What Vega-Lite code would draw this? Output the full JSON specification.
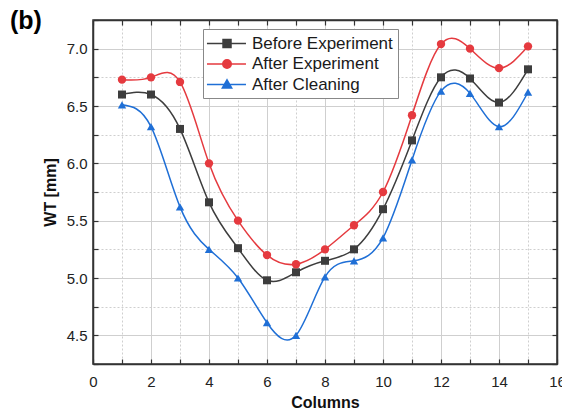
{
  "$schema": "https://vega.github.io/schema/vega-lite/v6.json",
  "width": 464,
  "height": 344,
  "autosize": {"type": "none"},
  "padding": {"left": 93, "top": 20, "right": 5, "bottom": 50},
  "background": "white",
  "title": {"text": "(b)", "anchor": "start", "frame": "group", "dx": -83, "dy": 35, "offset": 0, "baseline": "alphabetic", "fontSize": 25, "fontWeight": "bold", "font": "Liberation Sans", "color": "#000"},
  "config": {
    "font": "Liberation Sans",
    "view": {"stroke": "#333", "strokeWidth": 1.5},
    "axis": {"labelFont": "Liberation Sans", "titleFont": "Liberation Sans", "labelColor": "#222", "titleColor": "#111"}
  },
  "data": {"values": [
    {"col": 1, "wt": 6.6, "s": "Before Experiment"},
    {"col": 2, "wt": 6.6, "s": "Before Experiment"},
    {"col": 3, "wt": 6.3, "s": "Before Experiment"},
    {"col": 4, "wt": 5.66, "s": "Before Experiment"},
    {"col": 5, "wt": 5.26, "s": "Before Experiment"},
    {"col": 6, "wt": 4.98, "s": "Before Experiment"},
    {"col": 7, "wt": 5.05, "s": "Before Experiment"},
    {"col": 8, "wt": 5.15, "s": "Before Experiment"},
    {"col": 9, "wt": 5.25, "s": "Before Experiment"},
    {"col": 10, "wt": 5.6, "s": "Before Experiment"},
    {"col": 11, "wt": 6.2, "s": "Before Experiment"},
    {"col": 12, "wt": 6.75, "s": "Before Experiment"},
    {"col": 13, "wt": 6.74, "s": "Before Experiment"},
    {"col": 14, "wt": 6.53, "s": "Before Experiment"},
    {"col": 15, "wt": 6.82, "s": "Before Experiment"},
    {"col": 1, "wt": 6.73, "s": "After Experiment"},
    {"col": 2, "wt": 6.75, "s": "After Experiment"},
    {"col": 3, "wt": 6.71, "s": "After Experiment"},
    {"col": 4, "wt": 6.0, "s": "After Experiment"},
    {"col": 5, "wt": 5.5, "s": "After Experiment"},
    {"col": 6, "wt": 5.2, "s": "After Experiment"},
    {"col": 7, "wt": 5.12, "s": "After Experiment"},
    {"col": 8, "wt": 5.25, "s": "After Experiment"},
    {"col": 9, "wt": 5.46, "s": "After Experiment"},
    {"col": 10, "wt": 5.75, "s": "After Experiment"},
    {"col": 11, "wt": 6.42, "s": "After Experiment"},
    {"col": 12, "wt": 7.04, "s": "After Experiment"},
    {"col": 13, "wt": 7.0, "s": "After Experiment"},
    {"col": 14, "wt": 6.83, "s": "After Experiment"},
    {"col": 15, "wt": 7.02, "s": "After Experiment"},
    {"col": 1, "wt": 6.51, "s": "After Cleaning"},
    {"col": 2, "wt": 6.32, "s": "After Cleaning"},
    {"col": 3, "wt": 5.62, "s": "After Cleaning"},
    {"col": 4, "wt": 5.25, "s": "After Cleaning"},
    {"col": 5, "wt": 5.0, "s": "After Cleaning"},
    {"col": 6, "wt": 4.61, "s": "After Cleaning"},
    {"col": 7, "wt": 4.5, "s": "After Cleaning"},
    {"col": 8, "wt": 5.01, "s": "After Cleaning"},
    {"col": 9, "wt": 5.15, "s": "After Cleaning"},
    {"col": 10, "wt": 5.35, "s": "After Cleaning"},
    {"col": 11, "wt": 6.03, "s": "After Cleaning"},
    {"col": 12, "wt": 6.63, "s": "After Cleaning"},
    {"col": 13, "wt": 6.61, "s": "After Cleaning"},
    {"col": 14, "wt": 6.32, "s": "After Cleaning"},
    {"col": 15, "wt": 6.62, "s": "After Cleaning"}
  ]},
  "layer": [
    {
      "mark": {"type": "line", "interpolate": "natural", "strokeWidth": 1.5},
      "encoding": {
        "x": {"field": "col", "type": "quantitative", "scale": {"domain": [0, 16], "nice": false, "zero": false},
          "axis": {"orient": "bottom", "title": "Columns", "titleFontSize": 16, "titleFontWeight": "bold", "titlePadding": 5,
            "values": [0,1,2,3,4,5,6,7,8,9,10,11,12,13,14,15,16],
            "labelExpr": "datum.value % 2 == 0 ? format(datum.value, 'd') : ''",
            "labelFontSize": 15, "labelPadding": 15, "tickSize": -5, "tickColor": "#333", "tickWidth": 1.2,
            "domainColor": "#333", "domainWidth": 1.5, "labelFlush": false,
            "grid": true, "gridColor": "#cfcfcf", "gridWidth": 1,
            "gridDash": {"condition": {"test": "datum.value % 2 != 0", "value": [2, 2]}, "value": []}}},
        "y": {"field": "wt", "type": "quantitative", "scale": {"domain": [4.25, 7.25], "nice": false, "zero": false},
          "axis": {"orient": "left", "title": "WT [mm]", "titleFontSize": 16, "titleFontWeight": "bold", "titlePadding": 8,
            "values": [4.25,4.5,4.75,5,5.25,5.5,5.75,6,6.25,6.5,6.75,7,7.25],
            "labelExpr": "(datum.value * 2) % 1 == 0 ? format(datum.value, '.1f') : ''",
            "labelFontSize": 15, "labelPadding": 11, "tickSize": -5, "tickColor": "#333", "tickWidth": 1.2,
            "domainColor": "#333", "domainWidth": 1.5, "labelFlush": false,
            "grid": true, "gridColor": "#cfcfcf", "gridWidth": 1,
            "gridDash": {"condition": {"test": "(datum.value * 2) % 1 != 0", "value": [2, 2]}, "value": []}}},
        "color": {"field": "s", "type": "nominal",
          "scale": {"domain": ["Before Experiment", "After Experiment", "After Cleaning"], "range": ["#3d3d3d", "#e53a3f", "#1f6fd6"]},
          "legend": {"title": null, "orient": "none", "legendX": 110, "legendY": 9,
            "labelFontSize": 17, "labelFont": "Liberation Sans", "labelColor": "#1a1a1a", "labelOffset": 25,
            "symbolSize": 289, "symbolStrokeWidth": 1.5, "rowPadding": 2.5, "padding": 5,
            "strokeColor": "#888", "fillColor": "white",
            "encode": {"symbols": {"update": {
              "shape": {"signal": "datum.value == 'Before Experiment' ? 'M-1.24,0H3.35M0.65,-0.47H1.59V0.47H0.65Z' : datum.value == 'After Experiment' ? 'M-1.24,0H3.35M0.62,0A0.5,0.5 0 1,1 1.62,0A0.5,0.5 0 1,1 0.62,0Z' : 'M-1.24,0H3.35M1.12,-0.55L1.67,0.4H0.57Z'"},
              "fill": {"signal": "scale('color', datum.value)"},
              "stroke": {"signal": "scale('color', datum.value)"},
              "fillOpacity": {"value": 1},
              "strokeOpacity": {"value": 1}
            }}}}}
      }
    },
    {
      "transform": [{"filter": "datum.s == 'Before Experiment'"}],
      "mark": {"type": "point", "filled": true, "opacity": 1, "shape": "square", "size": 64},
      "encoding": {
        "x": {"field": "col", "type": "quantitative",
          "axis": {"orient": "top", "title": null, "labels": false, "grid": false,
            "values": [0,1,2,3,4,5,6,7,8,9,10,11,12,13,14,15,16],
            "tickSize": -5, "tickColor": "#333", "tickWidth": 1.2, "domainColor": "#333", "domainWidth": 1.5}},
        "y": {"field": "wt", "type": "quantitative",
          "axis": {"orient": "right", "title": null, "labels": false, "grid": false,
            "values": [4.25,4.5,4.75,5,5.25,5.5,5.75,6,6.25,6.5,6.75,7,7.25],
            "tickSize": -5, "tickColor": "#333", "tickWidth": 1.2, "domainColor": "#333", "domainWidth": 1.5}},
        "color": {"field": "s", "type": "nominal", "legend": null}
      }
    },
    {
      "transform": [{"filter": "datum.s == 'After Experiment'"}],
      "mark": {"type": "point", "filled": true, "opacity": 1, "shape": "circle", "size": 70},
      "encoding": {
        "x": {"field": "col", "type": "quantitative", "axis": null},
        "y": {"field": "wt", "type": "quantitative", "axis": null},
        "color": {"field": "s", "type": "nominal", "legend": null}
      }
    },
    {
      "transform": [{"filter": "datum.s == 'After Cleaning'"}],
      "mark": {"type": "point", "filled": true, "opacity": 1, "shape": "triangle-up", "size": 70},
      "encoding": {
        "x": {"field": "col", "type": "quantitative", "axis": null},
        "y": {"field": "wt", "type": "quantitative", "axis": null},
        "color": {"field": "s", "type": "nominal", "legend": null}
      }
    }
  ],
  "resolve": {"axis": {"x": "independent", "y": "independent"}}
}
